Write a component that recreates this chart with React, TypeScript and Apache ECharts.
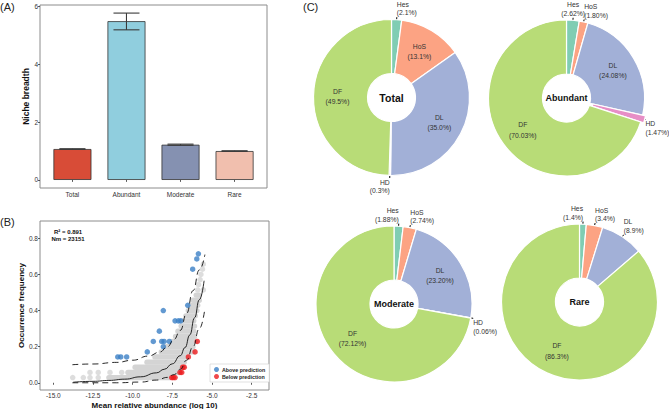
import React, { useEffect, useRef } from 'react';
import * as echarts from 'echarts';

// ---------- Panel A data ----------
const nicheCategories = ['Total', 'Abundant', 'Moderate', 'Rare'];
const nicheValues = [1.07, 5.5, 1.22, 1.0];
const nicheErrLow = [1.06, 5.2, 1.2, 0.99];
const nicheErrHigh = [1.08, 5.78, 1.24, 1.01];
const nicheYTicks = [0, 2, 4, 6];
const nicheColors = ['#D84C37', '#90CEDE', '#8591B1', '#F1BFAE'];

// ---------- Panel B data ----------
const abundanceTicks = [-15, -12.5, -10, -7.5, -5, -2.5];
const occurrenceTicks = [0, 0.2, 0.4, 0.6, 0.8];
// [frequency, from (log10 abundance), to]
const grayBands = [
  [0.029, -11.5, -7.65],
  [0.057, -10.3, -7.15],
  [0.086, -9.85, -6.95],
  [0.114, -9.1, -6.75],
  [0.143, -8.6, -6.6],
  [0.171, -8.2, -6.2],
  [0.2, -7.9, -6.2],
  [0.229, -7.5, -6.05],
  [0.257, -7.3, -6.1],
  [0.286, -7.15, -6.15],
  [0.314, -6.95, -6.1],
  [0.343, -6.85, -6.15],
  [0.371, -6.65, -6.05],
  [0.4, -6.5, -5.95],
  [0.429, -6.35, -5.9],
  [0.457, -6.2, -5.8],
  [0.486, -6.0, -5.8],
];
const grayDots = [
  [-13.78, 0.029], [-13.11, 0.029], [-12.69, 0.029], [-12.17, 0.029],
  [-12.69, 0.057], [-12.17, 0.057], [-11.43, 0.057], [-10.69, 0.057],
  [-5.9, 0.514], [-5.55, 0.514], [-5.85, 0.543], [-5.75, 0.571],
  [-5.7, 0.6], [-5.6, 0.629], [-5.55, 0.657],
];
const abovePoints = [
  [-10.94, 0.143], [-10.75, 0.143], [-10.38, 0.143], [-9.08, 0.171],
  [-8.7, 0.229], [-8.17, 0.229], [-8.02, 0.229], [-7.69, 0.229],
  [-8.07, 0.2], [-8.32, 0.286], [-8.07, 0.4], [-7.33, 0.343],
  [-7.12, 0.343], [-6.97, 0.343], [-6.53, 0.429], [-6.22, 0.629],
  [-5.96, 0.686], [-5.86, 0.714],
];
const belowPoints = [
  [-5.93, 0.229], [-6.07, 0.171], [-6.49, 0.143], [-6.85, 0.086],
  [-6.75, 0.086], [-7.02, 0.057], [-6.91, 0.057], [-7.54, 0.029],
  [-7.44, 0.029], [-7.33, 0.029],
];
const fitCurve = [
  [-13.75, 0.003], [-12.5, 0.008], [-11.5, 0.013], [-10.5, 0.02],
  [-9.5, 0.033], [-8.5, 0.055], [-8.0, 0.075], [-7.5, 0.105],
  [-7.0, 0.15], [-6.7, 0.195], [-6.4, 0.265], [-6.1, 0.36],
  [-5.8, 0.46], [-5.5, 0.565],
];
const upperCurve = [
  [-13.8, 0.1], [-12.5, 0.104], [-11.0, 0.113], [-10.0, 0.125],
  [-9.0, 0.148], [-8.3, 0.17], [-7.8, 0.2], [-7.4, 0.24],
  [-7.0, 0.29], [-6.6, 0.385], [-6.2, 0.51], [-5.8, 0.625], [-5.45, 0.71],
];
const lowerCurve = [
  [-13.8, 0.0], [-11.0, 0.0], [-9.5, 0.004], [-8.5, 0.015],
  [-7.8, 0.03], [-7.4, 0.045], [-7.0, 0.075], [-6.6, 0.125],
  [-6.2, 0.2], [-5.8, 0.3], [-5.45, 0.41],
];
const fitStats = ['R² = 0.891', 'Nm = 23151'];

// ---------- Panel C data ----------
const guildNames = ['Hes', 'HoS', 'DL', 'HD', 'DF'];
const totalShares = [2.1, 13.1, 35.0, 0.3, 49.5];
const abundantShares = [2.62, 1.8, 24.08, 1.47, 70.03];
const moderateShares = [1.88, 2.74, 23.2, 0.06, 72.12];
const rareShares = [1.4, 3.4, 8.9, null, 86.3];

// ---------- styles / layout ----------
const FONT = '"Liberation Sans", Arial, Helvetica, sans-serif';
const guildColors: Record<string, string> = {
  Hes: '#80CDB3', HoS: '#FCA383', DL: '#A2B0D7', HD: '#E78EC6', DF: '#B8DC77',
};
const pieLayouts = [
  { title: 'Total', shares: totalShares, decimals: 1, center: [391.5, 97.5], titleSize: 10.5, explode: [] as string[],
    lineLen: {} as Record<string, number>,
    align: { Hes: { verticalAlign: 'bottom' }, HD: { align: 'right', verticalAlign: 'top' } } },
  { title: 'Abundant', shares: abundantShares, decimals: 2, center: [566.5, 98], titleSize: 9, explode: ['HD'],
    lineLen: { HD: 0.8 } as Record<string, number>,
    align: { Hes: { align: 'center', verticalAlign: 'bottom' }, HoS: { verticalAlign: 'bottom' }, HD: { verticalAlign: 'top' } } },
  { title: 'Moderate', shares: moderateShares, decimals: 2, center: [394, 304], titleSize: 9, explode: [],
    lineLen: {} as Record<string, number>,
    align: { Hes: { align: 'right', verticalAlign: 'bottom' }, HoS: { verticalAlign: 'bottom' }, HD: { verticalAlign: 'top' } } },
  { title: 'Rare', shares: rareShares, decimals: 1, center: [579.5, 302], titleSize: 9, explode: [],
    lineLen: {} as Record<string, number>,
    align: { Hes: { align: 'right', verticalAlign: 'bottom' }, HoS: { verticalAlign: 'bottom' }, DL: { verticalAlign: 'bottom' } } },
];

const axisText = { fontSize: 6.5, color: '#333', fontFamily: FONT };
const axisTitle = { fontSize: 8, fontWeight: 'bold' as const, color: '#111', fontFamily: FONT };

function pieSeries(cfg: any) {
  const data = guildNames
    .map((n, i) => ({ name: n, value: cfg.shares[i] }))
    .filter((d) => d.value != null)
    .map((d) => {
      const inside = d.value >= 10;
      const len = cfg.lineLen[d.name];
      return {
        name: d.name,
        value: d.value,
        selected: cfg.explode.includes(d.name),
        itemStyle: { color: guildColors[d.name] },
        label: inside ? { position: 'inside', lineHeight: 10.5 } : { position: 'outside', lineHeight: 8.6 },
        labelLine: len != null ? { show: !inside, length: len } : { show: !inside },
      };
    });
  return {
    type: 'pie',
    center: cfg.center,
    radius: [24, 78],
    startAngle: 90,
    clockwise: true,
    avoidLabelOverlap: false,
    selectedMode: cfg.explode.length ? 'multiple' : false,
    selectedOffset: 3,
    itemStyle: { borderColor: '#fff', borderWidth: 1.2 },
    label: {
      show: true,
      formatter: (p: any) => `${p.name}\n(${Number(p.value).toFixed(cfg.decimals)}%)`,
      fontSize: 6.8,
      color: '#333',
      fontFamily: FONT,
      distanceToLabelLine: 0,
    },
    labelLine: { length: 2.5, length2: 0, smooth: false, lineStyle: { color: '#000', width: 1 } },
    labelLayout: (params: any) => {
      const item = data[params.dataIndex];
      return (item && cfg.align[item.name]) || {};
    },
    emphasis: { disabled: true },
    data,
  };
}

function buildOption(): any {
  const graphics: any[] = [
    { type: 'text', x: 0, y: 1, style: { text: '(A)', font: `11px ${FONT}`, fill: '#222', verticalAlign: 'top' } },
    { type: 'text', x: 0, y: 216, style: { text: '(B)', font: `11px ${FONT}`, fill: '#222', verticalAlign: 'top' } },
    { type: 'text', x: 303, y: 1, style: { text: '(C)', font: `11px ${FONT}`, fill: '#222', verticalAlign: 'top' } },
    { type: 'text', x: 54, y: 231.5, style: { text: fitStats[0], font: `bold 6px ${FONT}`, fill: '#111', verticalAlign: 'middle' } },
    { type: 'text', x: 51.5, y: 239, style: { text: fitStats[1], font: `bold 6px ${FONT}`, fill: '#111', verticalAlign: 'middle' } },
  ];
  pieLayouts.forEach((p) => {
    graphics.push({
      type: 'text', x: p.center[0], y: p.center[1], z: 100,
      style: { text: p.title, font: `bold ${p.titleSize}px ${FONT}`, fill: '#111', align: 'center', verticalAlign: 'middle' },
    });
  });

  return {
    animation: false,
    backgroundColor: '#fff',
    textStyle: { fontFamily: FONT },
    graphic: graphics,
    grid: [
      { left: 40, top: 5, width: 227, height: 183, show: true, borderColor: '#8c8c8c', borderWidth: 1, outerBoundsMode: 'none', containLabel: false },
      { left: 40, top: 221, width: 229, height: 169, show: true, borderColor: '#8c8c8c', borderWidth: 1, outerBoundsMode: 'none', containLabel: false },
    ],
    legend: {
      data: ['Above prediction', 'Below prediction'],
      orient: 'vertical',
      left: 210,
      top: 364,
      itemWidth: 5,
      itemHeight: 5,
      itemGap: 2,
      icon: 'circle',
      padding: [3, 4, 3, 4],
      borderColor: '#cfcfcf',
      borderWidth: 0.6,
      backgroundColor: '#fff',
      textStyle: { fontSize: 5.3, color: '#222', fontFamily: FONT, fontWeight: 'bold', padding: [0, 0, 0, -2] },
      selectedMode: false,
    },
    xAxis: [
      {
        gridIndex: 0, type: 'value', min: 0.4, max: 4.6,
        axisLine: { show: false }, splitLine: { show: false },
        axisTick: { show: true, length: 2, customValues: [1, 2, 3, 4], lineStyle: { color: '#333', width: 0.8 } },
        axisLabel: { ...axisText, margin: 3, customValues: [1, 2, 3, 4], formatter: (v: number) => nicheCategories[Math.round(v) - 1] },
      },
      {
        gridIndex: 1, type: 'value', min: -15.84, max: -1.41,
        name: 'Mean relative abundance (log 10)', nameLocation: 'middle', nameGap: 11, nameTextStyle: axisTitle,
        axisLine: { show: false }, splitLine: { show: false },
        axisTick: { show: true, length: 2, customValues: abundanceTicks, lineStyle: { color: '#333', width: 0.8 } },
        axisLabel: { ...axisText, margin: 2, customValues: abundanceTicks, formatter: (v: number) => v.toFixed(1) },
      },
    ],
    yAxis: [
      {
        gridIndex: 0, type: 'value', min: -0.28, max: 6.06,
        name: 'Niche breadth', nameLocation: 'middle', nameGap: 6, nameTextStyle: { ...axisTitle, fontSize: 8.5 },
        axisLine: { show: false }, splitLine: { show: false },
        axisTick: { show: true, length: 2, customValues: nicheYTicks, lineStyle: { color: '#333', width: 0.8 } },
        axisLabel: { ...axisText, margin: 2, customValues: nicheYTicks },
      },
      {
        gridIndex: 1, type: 'value', min: -0.04, max: 0.896,
        name: 'Occurrence frequency', nameLocation: 'middle', nameGap: 12, nameTextStyle: axisTitle,
        axisLine: { show: false }, splitLine: { show: false },
        axisTick: { show: true, length: 2, customValues: occurrenceTicks, lineStyle: { color: '#333', width: 0.8 } },
        axisLabel: { ...axisText, margin: 2, customValues: occurrenceTicks, formatter: (v: number) => v.toFixed(1) },
      },
    ],
    series: [
      // Panel A
      {
        type: 'bar', xAxisIndex: 0, yAxisIndex: 0, barWidth: 38,
        data: nicheValues.map((v, i) => ({ value: [i + 1, v], itemStyle: { color: nicheColors[i] } })),
        itemStyle: { borderColor: '#333', borderWidth: 0.8 },
        emphasis: { disabled: true },
      },
      {
        type: 'custom', xAxisIndex: 0, yAxisIndex: 0, z: 5,
        data: nicheValues.map((_, i) => [i + 1, nicheErrLow[i], nicheErrHigh[i]]),
        encode: { x: 0, y: [1, 2] },
        renderItem: (params: any, api: any) => {
          const x = api.value(0);
          const lo = api.coord([x, api.value(1)]);
          const hi = api.coord([x, api.value(2)]);
          const half = 13;
          const st = { stroke: '#3a3a3a', lineWidth: 1.1 };
          return {
            type: 'group',
            children: [
              { type: 'line', shape: { x1: lo[0], y1: lo[1], x2: hi[0], y2: hi[1] }, style: st },
              { type: 'line', shape: { x1: lo[0] - half, y1: lo[1], x2: lo[0] + half, y2: lo[1] }, style: st },
              { type: 'line', shape: { x1: hi[0] - half, y1: hi[1], x2: hi[0] + half, y2: hi[1] }, style: st },
            ],
          };
        },
      },
      // Panel B
      {
        type: 'custom', name: 'neutral', xAxisIndex: 1, yAxisIndex: 1,
        data: grayBands,
        encode: { x: [1, 2], y: 0 },
        renderItem: (params: any, api: any) => {
          const f = api.value(0);
          const a = api.coord([api.value(1), f]);
          const b = api.coord([api.value(2), f]);
          return {
            type: 'line',
            shape: { x1: a[0], y1: a[1], x2: b[0], y2: b[1] },
            style: { stroke: '#d4d4d4', lineWidth: 5.3, lineCap: 'round' },
          };
        },
      },
      {
        type: 'scatter', name: 'neutral dots', xAxisIndex: 1, yAxisIndex: 1,
        data: grayDots, symbolSize: 5.5, itemStyle: { color: '#d4d4d4' }, emphasis: { disabled: true },
      },
      {
        type: 'scatter', name: 'Above prediction', xAxisIndex: 1, yAxisIndex: 1,
        data: abovePoints, symbolSize: 5.5, itemStyle: { color: '#3B80C6' }, emphasis: { disabled: true },
      },
      {
        type: 'scatter', name: 'Below prediction', xAxisIndex: 1, yAxisIndex: 1,
        data: belowPoints, symbolSize: 5.5, itemStyle: { color: '#EC1C1E' }, emphasis: { disabled: true },
      },
      {
        type: 'line', name: 'fit', xAxisIndex: 1, yAxisIndex: 1, data: fitCurve, showSymbol: false,
        smooth: true, smoothMonotone: 'x', lineStyle: { color: '#111', width: 0.9 }, z: 4,
      },
      {
        type: 'line', name: 'upper', xAxisIndex: 1, yAxisIndex: 1, data: upperCurve, showSymbol: false,
        smooth: true, smoothMonotone: 'x', lineStyle: { color: '#111', width: 0.9, type: [6, 4] }, z: 4,
      },
      {
        type: 'line', name: 'lower', xAxisIndex: 1, yAxisIndex: 1, data: lowerCurve, showSymbol: false,
        smooth: true, smoothMonotone: 'x', lineStyle: { color: '#111', width: 0.9, type: [6, 4] }, z: 4,
      },
      // Panel C
      ...pieLayouts.map((p) => pieSeries(p)),
    ],
  };
}

export default function App() {
  const ref = useRef<HTMLDivElement>(null);
  useEffect(() => {
    const chart = echarts.init(ref.current!, null, { renderer: 'svg' });
    chart.setOption(buildOption());
    return () => chart.dispose();
  }, []);
  return (
    <div
      ref={ref}
      style={{ position: 'fixed', left: 0, top: 0, width: 669, height: 409, background: '#fff' }}
    />
  );
}
